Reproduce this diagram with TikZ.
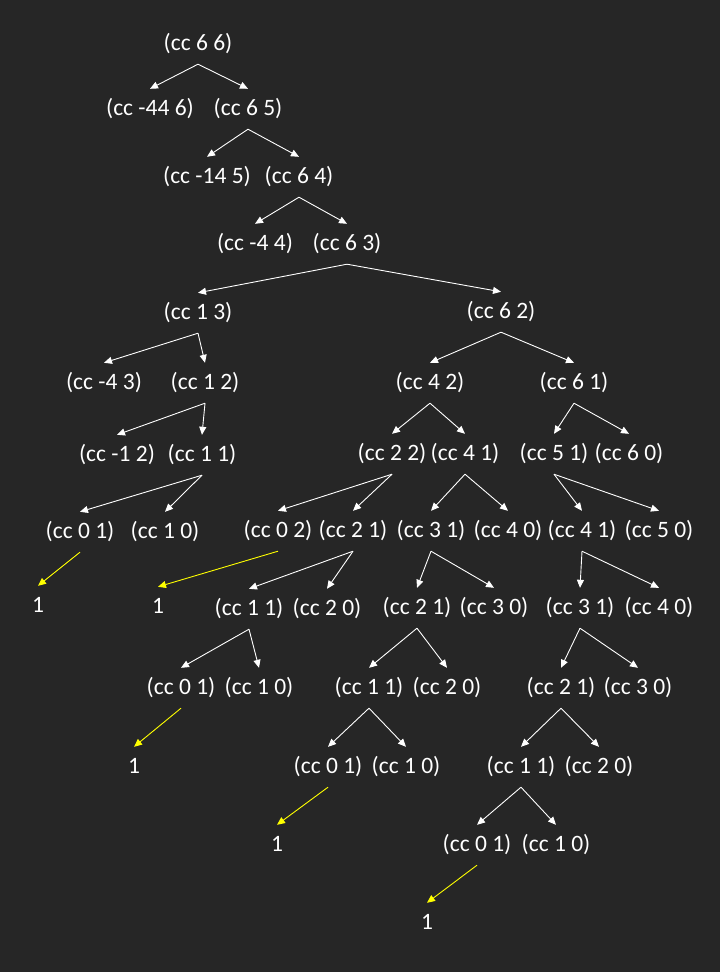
\documentclass[tikz,border=0pt]{standalone}
\usepackage{color}
\usepackage{fontspec}
\setmainfont{Carlito}
\usepackage{tikz}
\usetikzlibrary{arrows.meta}
\definecolor{bgdark}{RGB}{38,38,38}
\definecolor{leafyellow}{RGB}{255,255,0}

\begin{document}
\begin{tikzpicture}[x=1pt,y=-1pt]
\tikzset{call/.style={text=white, inner sep=0pt, minimum height=40pt, text height=17pt, text depth=4pt}}
\tikzset{edge/.style={draw=white, line width=0.9pt, -{Triangle[length=8pt,width=7pt]}}}
\tikzset{base/.style={draw=leafyellow, line width=0.9pt, -{Triangle[length=8pt,width=7pt]}}}
\tikzstyle{every node}=[font=\fontsize{23.5}{28}\selectfont]
\fill[bgdark] (0,0) rectangle (720,972);
\useasboundingbox (0,0) rectangle (720,972);
% calls
\node[call] (c66) at (198,44) {(cc 6 6)};
\node[call] (cm446) at (150,109) {(cc -44 6)};
\node[call] (c65) at (248,109) {(cc 6 5)};
\node[call] (cm145) at (207,177) {(cc -14 5)};
\node[call] (c64) at (299,177) {(cc 6 4)};
\node[call] (cm44) at (255,244) {(cc -4 4)};
\node[call] (c63) at (347,244) {(cc 6 3)};
\node[call] (c13) at (198,313) {(cc 1 3)};
\node[call] (c62) at (501,312) {(cc 6 2)};
\node[call] (cm43) at (104,383) {(cc -4 3)};
\node[call] (c12) at (205,383) {(cc 1 2)};
\node[call] (c42) at (430,383) {(cc 4 2)};
\node[call] (c61) at (574,383) {(cc 6 1)};
\node[call] (cm12) at (117,455) {(cc -1 2)};
\node[call] (c11) at (202,455) {(cc 1 1)};
\node[call] (c22) at (392,454) {(cc 2 2)};
\node[call] (c41a) at (465,454) {(cc 4 1)};
\node[call] (c51) at (554,454) {(cc 5 1)};
\node[call] (c60) at (629,454) {(cc 6 0)};
\node[call] (c01a) at (80,532) {(cc 0 1)};
\node[call] (c10a) at (165,532) {(cc 1 0)};
\node[call] (c02) at (278,531) {(cc 0 2)};
\node[call] (c21a) at (353,531) {(cc 2 1)};
\node[call] (c31a) at (431,531) {(cc 3 1)};
\node[call] (c40a) at (508,531) {(cc 4 0)};
\node[call] (c41b) at (582,531) {(cc 4 1)};
\node[call] (c50) at (659,531) {(cc 5 0)};
\node[call] (c11b) at (249,609) {(cc 1 1)};
\node[call] (c20a) at (327,609) {(cc 2 0)};
\node[call] (c21b) at (417,608) {(cc 2 1)};
\node[call] (c30a) at (494,608) {(cc 3 0)};
\node[call] (c31b) at (580,608) {(cc 3 1)};
\node[call] (c40b) at (659,608) {(cc 4 0)};
\node[call] (c01b) at (181,688) {(cc 0 1)};
\node[call] (c10b) at (259,688) {(cc 1 0)};
\node[call] (c11c) at (369,688) {(cc 1 1)};
\node[call] (c20b) at (447,688) {(cc 2 0)};
\node[call] (c21c) at (561,688) {(cc 2 1)};
\node[call] (c30b) at (638,688) {(cc 3 0)};
\node[call] (c01c) at (328,767) {(cc 0 1)};
\node[call] (c10c) at (406,767) {(cc 1 0)};
\node[call] (c11d) at (521,767) {(cc 1 1)};
\node[call] (c20c) at (599,767) {(cc 2 0)};
\node[call] (c01d) at (477,845) {(cc 0 1)};
\node[call] (c10d) at (556,845) {(cc 1 0)};
% results
\node[call] (one1) at (38,606) {1};
\node[call] (one2) at (158,607) {1};
\node[call] (one3) at (134,767) {1};
\node[call] (one4) at (277,845) {1};
\node[call] (one5) at (427,923) {1};
% edges
\draw[edge] (c66.south) -- (cm446.north); \draw[edge] (c66.south) -- (c65.north);
\draw[edge] (c65.south) -- (cm145.north); \draw[edge] (c65.south) -- (c64.north);
\draw[edge] (c64.south) -- (cm44.north); \draw[edge] (c64.south) -- (c63.north);
\draw[edge] (c63.south) -- (c13.north); \draw[edge] (c63.south) -- (c62.north);
\draw[edge] (c13.south) -- (cm43.north); \draw[edge] (c13.south) -- (c12.north);
\draw[edge] (c12.south) -- (cm12.north); \draw[edge] (c12.south) -- (c11.north);
\draw[edge] (c11.south) -- (c01a.north); \draw[edge] (c11.south) -- (c10a.north);
\draw[edge] (c62.south) -- (c42.north); \draw[edge] (c62.south) -- (c61.north);
\draw[edge] (c42.south) -- (c22.north); \draw[edge] (c42.south) -- (c41a.north);
\draw[edge] (c61.south) -- (c51.north); \draw[edge] (c61.south) -- (c60.north);
\draw[edge] (c22.south) -- (c02.north); \draw[edge] (c22.south) -- (c21a.north);
\draw[edge] (c41a.south) -- (c31a.north); \draw[edge] (c41a.south) -- (c40a.north);
\draw[edge] (c51.south) -- (c41b.north); \draw[edge] (c51.south) -- (c50.north);
\draw[edge] (c21a.south) -- (c11b.north); \draw[edge] (c21a.south) -- (c20a.north);
\draw[edge] (c31a.south) -- (c21b.north); \draw[edge] (c31a.south) -- (c30a.north);
\draw[edge] (c41b.south) -- (c31b.north); \draw[edge] (c41b.south) -- (c40b.north);
\draw[edge] (c11b.south) -- (c01b.north); \draw[edge] (c11b.south) -- (c10b.north);
\draw[edge] (c21b.south) -- (c11c.north); \draw[edge] (c21b.south) -- (c20b.north);
\draw[edge] (c31b.south) -- (c21c.north); \draw[edge] (c31b.south) -- (c30b.north);
\draw[edge] (c11c.south) -- (c01c.north); \draw[edge] (c11c.south) -- (c10c.north);
\draw[edge] (c21c.south) -- (c11d.north); \draw[edge] (c21c.south) -- (c20c.north);
\draw[edge] (c11d.south) -- (c01d.north); \draw[edge] (c11d.south) -- (c10d.north);
% base cases
\draw[base] (c01a.south) -- (one1.north);
\draw[base] (c02.south) -- (one2.north);
\draw[base] (c01b.south) -- (one3.north);
\draw[base] (c01c.south) -- (one4.north);
\draw[base] (c01d.south) -- (one5.north);
\end{tikzpicture}
\end{document}
